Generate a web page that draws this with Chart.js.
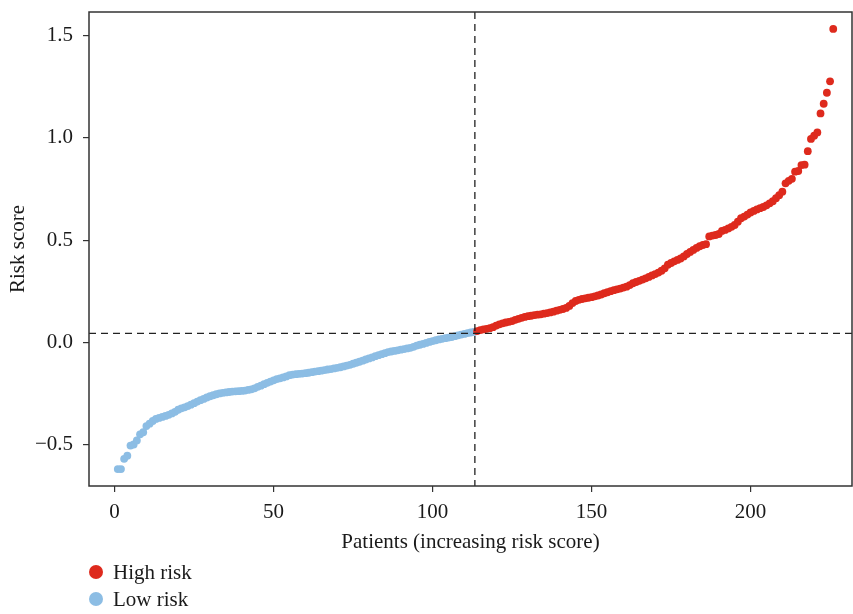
<!DOCTYPE html>
<html>
<head>
<meta charset="utf-8">
<script src="https://cdn.jsdelivr.net/npm/chart.js@4/dist/chart.umd.min.js"></script>
<style>
  html, body { margin: 0; padding: 0; background: #fff; }
  #wrap { width: 853px; height: 614px; }
</style>
</head>
<body>
<div id="wrap"><canvas id="c" width="853" height="614"></canvas></div>
<script>
// ---- data (sorted risk scores, patient index 1..226) ----
const lowRiskScores = [
  -0.62, -0.62, -0.57, -0.555, -0.505, -0.50, -0.48, -0.45, -0.44, -0.41,
  -0.398, -0.385, -0.375, -0.37, -0.365, -0.36, -0.355, -0.348, -0.34, -0.33,
  -0.323, -0.318, -0.312, -0.305, -0.298, -0.29, -0.283, -0.277, -0.27, -0.264,
  -0.259, -0.254, -0.25, -0.247, -0.245, -0.243, -0.241, -0.240, -0.239, -0.238,
  -0.236, -0.233, -0.23, -0.225, -0.218, -0.212, -0.205, -0.198, -0.192, -0.186,
  -0.180, -0.176, -0.172, -0.167, -0.161, -0.158, -0.156, -0.154, -0.153, -0.151,
  -0.149, -0.146, -0.143, -0.141, -0.139, -0.136, -0.133, -0.131, -0.128, -0.125,
  -0.122, -0.118, -0.114, -0.110, -0.105, -0.100, -0.095, -0.090, -0.084, -0.079,
  -0.074, -0.068, -0.063, -0.058, -0.053, -0.048, -0.045, -0.042, -0.039, -0.036,
  -0.033, -0.030, -0.027, -0.022, -0.016, -0.012, -0.008, -0.003, 0.002, 0.006,
  0.010, 0.014, 0.017, 0.020, 0.023, 0.026, 0.030, 0.034, 0.038, 0.041,
  0.045, 0.048, 0.051
];
const highRiskScores = [
  0.055, 0.060, 0.063, 0.066, 0.069, 0.074, 0.082, 0.088, 0.093, 0.097,
  0.100, 0.104, 0.110, 0.115, 0.120, 0.124, 0.128, 0.130, 0.133, 0.135,
  0.137, 0.140, 0.143, 0.146, 0.150, 0.155, 0.159, 0.163, 0.168, 0.178,
  0.192, 0.202, 0.208, 0.212, 0.215, 0.218, 0.221, 0.225, 0.229, 0.234,
  0.240, 0.245, 0.250, 0.255, 0.259, 0.263, 0.268, 0.272, 0.280, 0.289,
  0.295, 0.301, 0.307, 0.313, 0.320, 0.327, 0.334, 0.341, 0.350, 0.362,
  0.380, 0.388, 0.396, 0.403, 0.410, 0.420, 0.432, 0.442, 0.452, 0.462,
  0.470, 0.476, 0.480, 0.518, 0.522, 0.525, 0.530, 0.545, 0.550, 0.557,
  0.565, 0.574, 0.590, 0.607, 0.615, 0.625, 0.635, 0.643, 0.650, 0.656,
  0.662, 0.670, 0.680, 0.690, 0.705, 0.720, 0.737, 0.778, 0.790, 0.800,
  0.835, 0.838, 0.867, 0.869, 0.935, 0.995, 1.011, 1.027, 1.12, 1.167,
  1.221, 1.277, 1.533
];
const seriesNames = ['High risk', 'Low risk'];
const xTickValues = [0, 50, 100, 150, 200];
const yTickValues = [-0.5, 0, 0.5, 1.0, 1.5];
const yTickLabels = ['\u22120.5', '0.0', '0.5', '1.0', '1.5'];
const cutoffPatient = 113.3;
const cutoffScore = 0.044;
const xTitle = 'Patients (increasing risk score)';
const yTitle = 'Risk score';

// ---- build points ----
const lowPts = lowRiskScores.map((v, i) => ({ x: i + 1, y: v }));
const highPts = highRiskScores.map((v, i) => ({ x: lowRiskScores.length + i + 1, y: v }));

const RED = '#DE2A1D';
const BLUE = '#8CBDE4';
const FONT = "'Liberation Serif', 'DejaVu Serif', serif";
const FS = 21;
const TXT = '#1a1a1a';

const overlay = {
  id: 'overlay',
  afterDatasetsDraw(chart) {
    const { ctx, chartArea: a, scales: { x, y } } = chart;
    ctx.save();
    ctx.strokeStyle = '#222';
    ctx.lineWidth = 1.3;
    ctx.setLineDash([7, 5]);
    const px = x.getPixelForValue(cutoffPatient);
    const py = y.getPixelForValue(cutoffScore);
    ctx.beginPath();
    ctx.moveTo(px, a.top); ctx.lineTo(px, a.bottom);
    ctx.moveTo(a.left, py); ctx.lineTo(a.right, py);
    ctx.stroke();
    ctx.setLineDash([]);
    ctx.strokeStyle = '#333';
    ctx.lineWidth = 1.5;
    ctx.strokeRect(a.left, a.top, a.right - a.left, a.bottom - a.top);
    ctx.restore();
  },
  afterDraw(chart) {
    const { ctx } = chart;
    ctx.save();
    ctx.font = FS + 'px ' + FONT;
    ctx.textBaseline = 'middle';
    ctx.textAlign = 'left';
    const ds = chart.data.datasets;
    const ys = [572, 599];
    ds.forEach((d, i) => {
      ctx.fillStyle = d.backgroundColor;
      ctx.beginPath();
      ctx.arc(96, ys[i], 7, 0, Math.PI * 2);
      ctx.fill();
      ctx.fillStyle = TXT;
      ctx.fillText(d.label, 113, ys[i] + 1);
    });
    ctx.restore();
  }
};

new Chart(document.getElementById('c'), {
  type: 'scatter',
  data: {
    datasets: [
      { label: seriesNames[0], data: highPts, backgroundColor: RED, borderWidth: 0, pointRadius: 3.9, pointHoverRadius: 3.9 },
      { label: seriesNames[1], data: lowPts, backgroundColor: BLUE, borderWidth: 0, pointRadius: 3.9, pointHoverRadius: 3.9 }
    ]
  },
  options: {
    responsive: false,
    animation: false,
    devicePixelRatio: 1,
    layout: { autoPadding: false, padding: { left: 0, right: 1, top: 12, bottom: 58 } },
    plugins: { legend: { display: false }, tooltip: { enabled: false } },
    scales: {
      x: {
        type: 'linear',
        min: -8.05,
        max: 231.9,
        afterBuildTicks: s => { s.ticks = xTickValues.map(v => ({ value: v })); },
        afterFit: s => { s.height = 70; s.paddingLeft = 0; s.paddingRight = 0; },
        grid: { drawOnChartArea: false, drawTicks: true, tickLength: 6, color: '#333', lineWidth: 1.2 },
        border: { display: false },
        ticks: { color: TXT, font: { family: FONT, size: FS }, padding: 8, maxRotation: 0, callback: v => String(v) },
        title: { display: true, text: xTitle, color: TXT, font: { family: FONT, size: FS }, padding: { top: 0, bottom: 1 } }
      },
      y: {
        type: 'linear',
        min: -0.703,
        max: 1.616,
        afterBuildTicks: s => { s.ticks = yTickValues.map(v => ({ value: v })); },
        afterFit: s => { s.width = 89; s.paddingTop = 0; s.paddingBottom = 0; },
        grid: { drawOnChartArea: false, drawTicks: true, tickLength: 6, color: '#333', lineWidth: 1.2 },
        border: { display: false },
        ticks: {
          color: TXT, font: { family: FONT, size: FS }, padding: 10,
          callback: v => { const i = yTickValues.indexOf(v); return i >= 0 ? yTickLabels[i] : ''; }
        },
        title: { display: true, text: yTitle, color: TXT, font: { family: FONT, size: FS }, padding: { top: 6, bottom: 0 } }
      }
    }
  },
  plugins: [overlay]
});
</script>
</body>
</html>
